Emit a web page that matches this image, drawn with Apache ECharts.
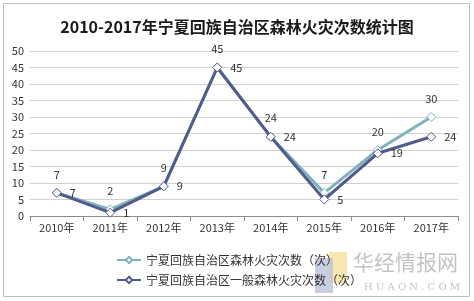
<!DOCTYPE html>
<html><head><meta charset="utf-8">
<script src="https://cdn.jsdelivr.net/npm/echarts@6/dist/echarts.min.js"></script>
<style>html,body{margin:0;padding:0;background:#fff}#c{width:474px;height:301px}</style>
</head><body><div id="c"></div>
<script>
var categories = ['2010年','2011年','2012年','2013年','2014年','2015年','2016年','2017年'];
var fireCounts = [7,2,9,45,24,7,20,30];
var generalCounts = [7,1,9,45,24,5,19,24];
var seriesNames = ['宁夏回族自治区森林火灾次数（次）','宁夏回族自治区一般森林火灾次数（次）'];
var yTicks = {min:0, max:50, interval:5};

var font = '"Noto Sans CJK SC", "Open Sans", sans-serif';
var chart = echarts.init(document.getElementById('c'));
chart.setOption({
  animation:false,
  textStyle:{fontFamily:font},
  title:{text:'2010-2017年宁夏回族自治区森林火灾次数统计图', left:'center', top:14,
    textStyle:{fontSize:16, fontWeight:'bold', color:'#1a1a1a', fontFamily:font}},
  graphic:[
    {type:'rect', shape:{x:3.5,y:3.5,width:466,height:293}, style:{fill:'none', stroke:'#bdbdbd', lineWidth:1}, z:-1},
    {type:'rect', shape:{x:329,y:252,width:18,height:31}, style:{fill:'#f7e3a3', opacity:0.85}, z:0},
    {type:'rect', shape:{x:315,y:258,width:18,height:35}, style:{fill:'#b7bfd9', opacity:0.75}, z:0},
    {type:'text', left:353, top:252, style:{text:'华经情报网', fill:'#c4c4c4', font:'21px "Noto Sans CJK SC"'}, z:0},
    {type:'text', left:364, top:282, style:{text:'H U A O N . C O M', fill:'#c4c4c4', font:'10px "DejaVu Serif"'}, z:0}
  ],
  grid:{left:30, right:16, top:51, bottom:85},
  legend:{orient:'vertical', left:111, top:249, itemGap:8, itemWidth:24, itemHeight:8,
    textStyle:{fontSize:12, color:'#333', fontFamily:font}, data:seriesNames},
  xAxis:{type:'category', data:categories, boundaryGap:true,
    axisLine:{lineStyle:{color:'#8c8c8c'}},
    axisTick:{show:true, lineStyle:{color:'#8c8c8c'}},
    axisLabel:{fontSize:11, color:'#333', margin:6, fontFamily:font}},
  yAxis:{type:'value', min:yTicks.min, max:yTicks.max, interval:yTicks.interval,
    axisLine:{show:false}, axisTick:{show:false},
    axisLabel:{fontSize:11, color:'#333', margin:6, fontFamily:font},
    splitLine:{lineStyle:{color:'#d0d0d0'}}},
  series:[
    {name:seriesNames[0], type:'line', data:fireCounts, symbol:'diamond', symbolSize:9,
      lineStyle:{width:3, color:'#7fb3bb'},
      itemStyle:{color:'#fff', borderColor:'#7fb3bb', borderWidth:1},
      label:{show:true, position:'top', distance:8, fontSize:11, color:'#333'}, z:2},
    {name:seriesNames[1], type:'line', data:generalCounts, symbol:'diamond', symbolSize:9,
      lineStyle:{width:3, color:'#515c8c'},
      itemStyle:{color:'#fff', borderColor:'#515c8c', borderWidth:1},
      label:{show:true, position:'right', distance:8, fontSize:11, color:'#333'}, z:3}
  ]
});
</script></body></html>
